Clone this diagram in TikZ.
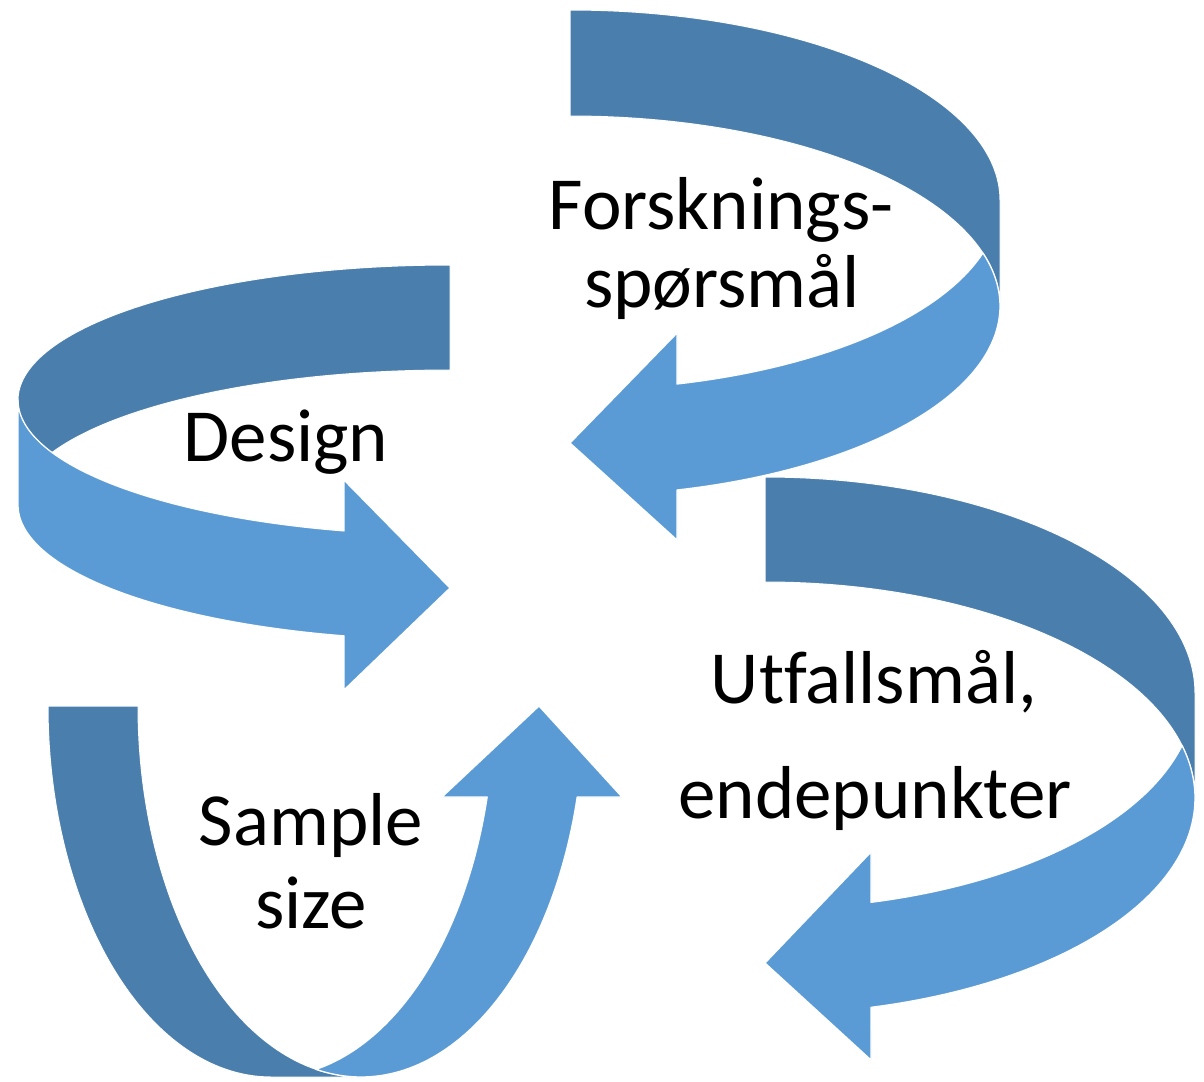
\documentclass[tikz,border=0pt]{standalone}
\usepackage{fontspec}
\setmainfont{Carlito}[Ligatures=CommonOff]
\definecolor{bdark}{RGB}{74,126,173}
\definecolor{blight}{RGB}{91,155,213}
\begin{document}
\begin{tikzpicture}[x=1pt,y=-1pt,
  back/.style={fill=bdark, draw=white, line width=1pt, line join=round},
  front/.style={fill=blight, draw=white, line width=1.3pt, line join=round},
  lbl/.style={font=\fontsize{75}{90}\selectfont, anchor=base, inner sep=0pt}]
\useasboundingbox (0,0) rectangle (1204,1081);
% ---- Arrow 1: Forsknings-spørsmål (top right)
\path[back] plot[domain=-90:0,samples=70,variable=\t] ({570+430*cos(\t)},{200+190*sin(\t)})
  -- plot[domain=0:-90,samples=70,variable=\t] ({570+430*cos(\t)},{306+190*sin(\t)}) -- cycle;
\path[front] plot[domain=16.2:75.59,samples=50,variable=\t] ({570+430*cos(\t)},{200+190*sin(\t)})
  -- (677,333) -- (570,443) -- (677,540)
  -- plot[domain=75.59:-16.2,samples=70,variable=\t] ({570+430*cos(\t)},{306+190*sin(\t)}) -- cycle;
% ---- Arrow 2: Design (left)
\path[back] plot[domain=-90:-180,samples=70,variable=\t] ({450+432*cos(\t)},{400+135*sin(\t)})
  -- plot[domain=-180:-90,samples=70,variable=\t] ({450+432*cos(\t)},{505+135*sin(\t)}) -- cycle;
\path[front] plot[domain=180:104.2,samples=60,variable=\t] ({450+432*cos(\t)},{400+135*sin(\t)})
  -- (344,480) -- (450,588) -- (344,690)
  -- plot[domain=104.2:180,samples=60,variable=\t] ({450+432*cos(\t)},{505+135*sin(\t)}) -- cycle;
% ---- Arrow 3: Sample size (bottom left)
\path[back] plot[domain=180:90,samples=70,variable=\t] ({271+223*cos(\t)},{706+371*sin(\t)})
  -- plot[domain=90:180,samples=70,variable=\t] ({361+223*cos(\t)},{706+371*sin(\t)}) -- cycle;
\path[front] plot[domain=78.36:14.2,samples=60,variable=\t] ({271+223*cos(\t)},{706+371*sin(\t)})
  -- (442,797) -- (539,706) -- (622,797)
  -- plot[domain=14.2:101.64,samples=70,variable=\t] ({361+223*cos(\t)},{706+371*sin(\t)}) -- cycle;
% ---- Arrow 4: Utfallsmål, endepunkter (bottom right)
\path[back] plot[domain=-90:0,samples=70,variable=\t] ({765+430*cos(\t)},{693+216*sin(\t)})
  -- plot[domain=0:-90,samples=70,variable=\t] ({765+430*cos(\t)},{798+216*sin(\t)}) -- cycle;
\path[front] plot[domain=14.06:75.73,samples=50,variable=\t] ({765+430*cos(\t)},{693+216*sin(\t)})
  -- (871,852) -- (765,963) -- (871,1060)
  -- plot[domain=75.73:-14.06,samples=70,variable=\t] ({765+430*cos(\t)},{798+216*sin(\t)}) -- cycle;
% ---- Labels
\node[lbl] (q1) at (721,229) {Forsknings-};
\node[lbl] (q2) at (722,307) {spørsmål};
\node[lbl] (d)  at (286,461) {Design};
\node[lbl] (s1) at (311,845) {Sample};
\node[lbl] (s2) at (311,928) {size};
\node[lbl] (u1) at (874,703) {Utfallsmål,};
\node[lbl] (u2) at (875,818) {endepunkter};
\end{tikzpicture}
\end{document}
